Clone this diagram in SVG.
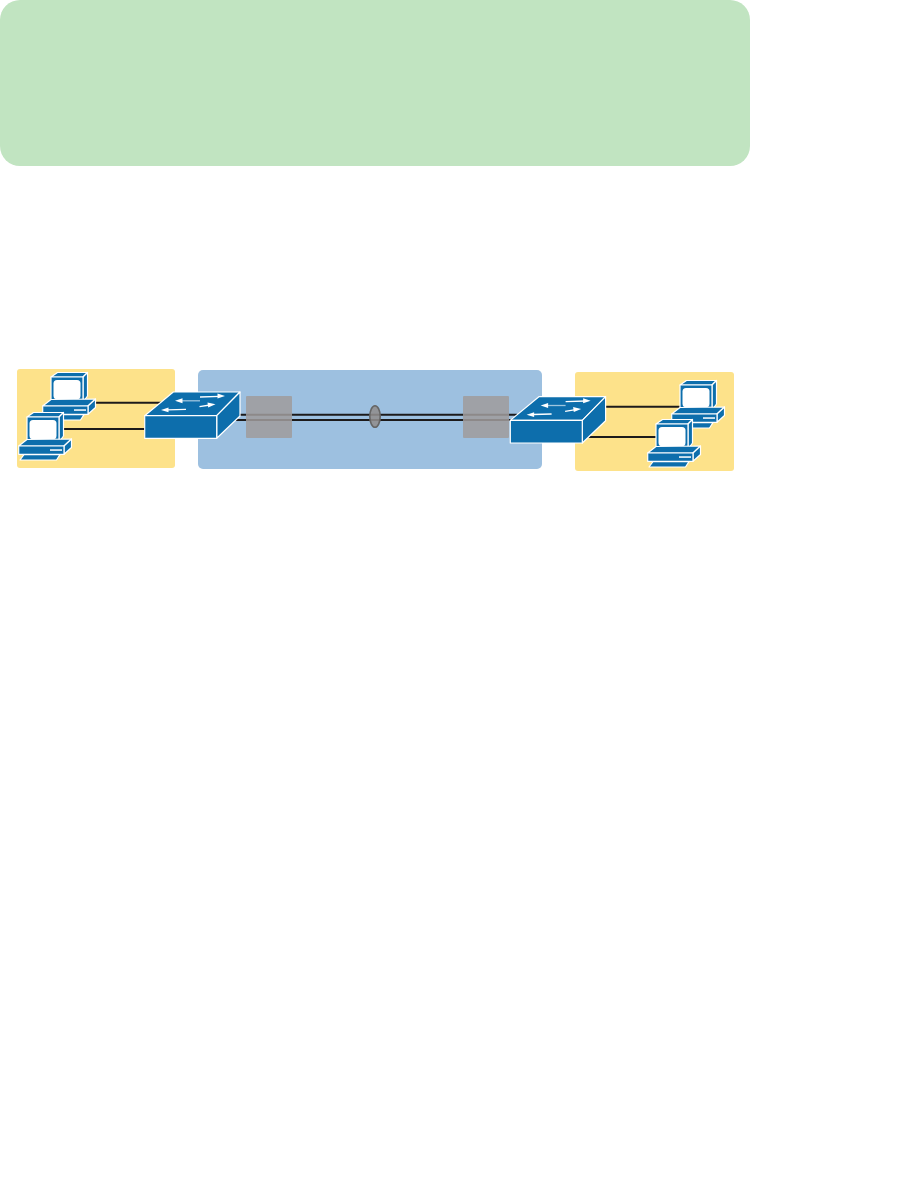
<svg xmlns="http://www.w3.org/2000/svg" width="916" height="1194" viewBox="0 0 916 1194">
<style>
.b{fill:#0d6eac;stroke:#fff;stroke-width:1.2;stroke-linejoin:round}
.w{fill:#fff}
.ar{fill:none;stroke:#fff;stroke-width:1.3}
.ah{fill:#fff}
.l{stroke:#1c1a1a;stroke-width:2;fill:none}
.box{fill:#9f9c9c;fill-opacity:.86}
</style>
<defs>
<g id="pc">
<polygon class="b" points="27,417 33.5,412.5 63.5,412.5 59,417"/>
<polygon class="b" points="59,417 63.5,412.5 63.5,436 59,442"/>
<rect class="b" x="27" y="417" width="32" height="25"/>
<rect class="w" x="29.5" y="420" width="27" height="19.3" rx="3.5"/>
<polygon class="b" points="18.7,446 27,439.5 71.5,439 64,446"/>
<polygon class="b" points="64,446 71.5,439 71.5,447.5 64,454.3"/>
<rect class="b" x="18.7" y="446" width="45.3" height="8.3"/>
<rect class="w" x="50" y="449.3" width="12" height="1.5"/>
<polygon class="b" points="24,454.6 60,454.6 56.5,460 20,460"/>
</g>
<g id="sw">
<polygon class="b" points="144.7,415.7 173.3,392 240,392 216.7,415.7"/>
<polygon class="b" points="216.7,415.7 240,392 240,416 216.7,438.3"/>
<rect class="b" x="144.7" y="415.7" width="72" height="22.6"/>
<line class="ar" x1="200" y1="397" x2="220" y2="396.3"/>
<polygon class="ah" points="225,396 217.5,393.6 217.5,398.6"/>
<line class="ar" x1="200" y1="400.8" x2="180" y2="400.8" stroke-opacity=".6"/>
<polygon class="ah" points="175,400.8 182.5,398.3 182.5,403.3"/>
<line class="ar" x1="199.5" y1="406.7" x2="210" y2="405"/>
<polygon class="ah" points="215.5,404.2 207.5,402.4 208.2,407.4"/>
<line class="ar" x1="186" y1="409.3" x2="167" y2="409.8"/>
<polygon class="ah" points="161,410 168.5,407.5 168.5,412.3"/>
</g>
</defs>
<rect id="top-band" x="0" y="0" width="750" height="166" rx="20" fill="#c1e4c1"/>
<rect id="left-lan" x="17" y="369" width="158" height="99" rx="3" fill="#fde28a"/>
<rect id="right-lan" x="575" y="372" width="159" height="99" rx="3" fill="#fde28a"/>
<rect id="wan" x="198" y="370" width="344" height="99" rx="5" fill="#9dc0e0"/>
<g id="connectors">
<line class="l" x1="90" y1="402.7" x2="162" y2="402.7"/>
<line class="l" x1="60" y1="429" x2="146" y2="429"/>
<line class="l" x1="604" y1="406.7" x2="682" y2="406.7"/>
<line class="l" x1="586" y1="437" x2="657" y2="437"/>
<line class="l" x1="238" y1="414.7" x2="517" y2="414.7"/>
<line class="l" x1="233" y1="420" x2="512" y2="420"/>
</g>
<g id="pc-1"><use href="#pc" x="24" y="-40"/></g>
<g id="pc-2"><use href="#pc"/></g>
<g id="pc-3"><use href="#pc" x="653" y="-32"/></g>
<g id="pc-4"><use href="#pc" x="629" y="7"/></g>
<g id="switch-1"><use href="#sw"/></g>
<g id="switch-2"><use href="#sw" x="365.6" y="4.7"/></g>
<rect id="box-1" class="box" x="246" y="396" width="46" height="42" rx="1"/>
<rect id="box-2" class="box" x="463" y="396" width="46" height="42" rx="1"/>
<ellipse id="bundle" cx="375" cy="416.5" rx="5.2" ry="10.8" fill="#918d8d" fill-opacity=".88" stroke="#666" stroke-width="1.6"/>
</svg>
